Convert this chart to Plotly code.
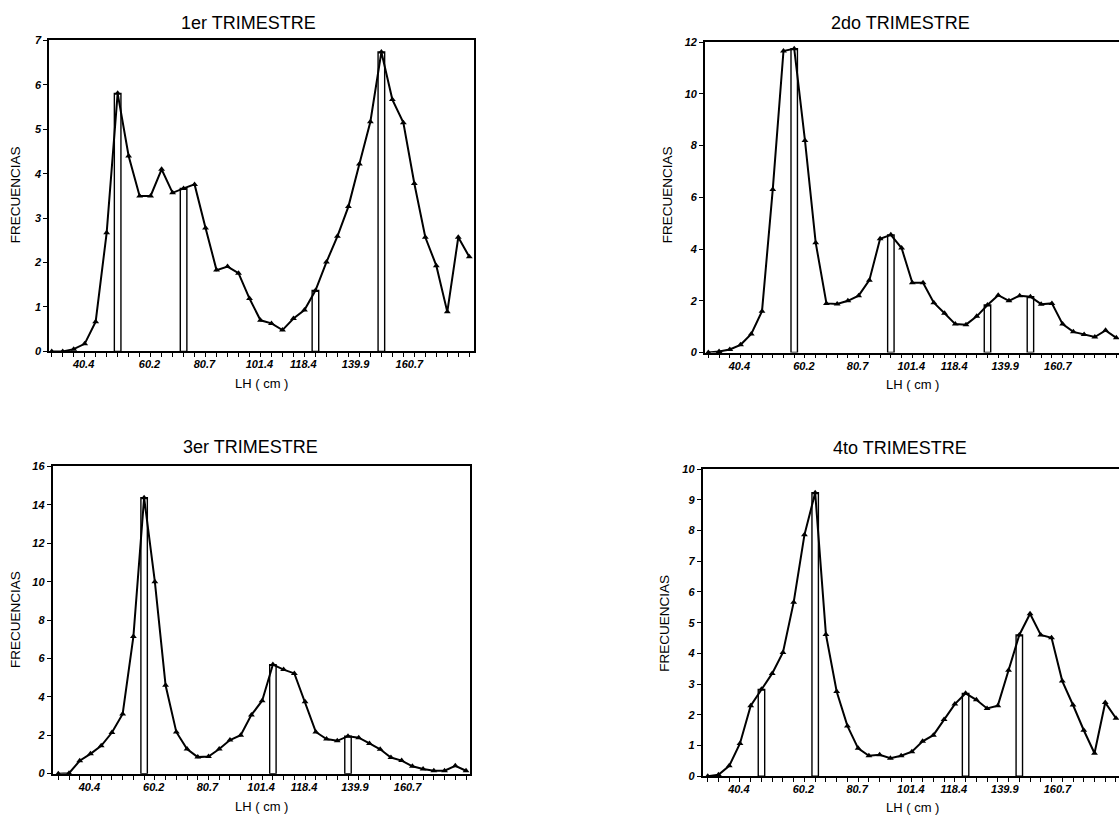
import plotly.graph_objects as go

# ---------------- data ----------------
bins = list(range(39))  # length-class index (equal-width classes)

tick_pos = [2.9, 8.9, 13.9, 18.9, 22.9, 27.65, 32.55]
tick_txt = ["40.4", "60.2", "80.7", "101.4", "118.4", "139.9", "160.7"]

titles = ["1er TRIMESTRE", "2do TRIMESTRE", "3er TRIMESTRE", "4to TRIMESTRE"]

q1 = [0, 0, 0.05, 0.17, 0.67, 2.67, 5.81, 4.4, 3.5, 3.5, 4.1, 3.57, 3.67, 3.76, 2.78,
      1.83, 1.91, 1.76, 1.19, 0.70, 0.63, 0.48, 0.74, 0.93, 1.37, 2.01, 2.59, 3.26,
      4.22, 5.17, 6.74, 5.67, 5.15, 3.78, 2.57, 1.93, 0.89, 2.57, 2.13]
q2 = [0, 0.04, 0.12, 0.3, 0.72, 1.6, 6.3, 11.66, 11.75, 8.2, 4.25, 1.9, 1.88, 2.0, 2.2,
      2.8, 4.4, 4.55, 4.04, 2.7, 2.7, 1.93, 1.52, 1.1, 1.08, 1.4, 1.84, 2.22, 2.0, 2.2,
      2.16, 1.87, 1.9, 1.1, 0.8, 0.7, 0.6, 0.86, 0.57]
q3 = [0, 0.02, 0.67, 1.03, 1.45, 2.14, 3.11, 7.14, 14.37, 10.0, 4.6, 2.17, 1.28, 0.86,
      0.89, 1.28, 1.75, 2.0, 3.06, 3.8, 5.68, 5.42, 5.22, 3.75, 2.17, 1.8, 1.71, 1.95,
      1.87, 1.57, 1.27, 0.84, 0.68, 0.38, 0.24, 0.15, 0.15, 0.41, 0.15]
q4 = [0, 0.05, 0.34, 1.07, 2.3, 2.83, 3.35, 4.03, 5.67, 7.86, 9.23, 4.62, 2.76, 1.64,
      0.91, 0.67, 0.7, 0.59, 0.67, 0.8, 1.14, 1.34, 1.85, 2.35, 2.7, 2.49, 2.21, 2.3,
      3.45, 4.6, 5.29, 4.6, 4.51, 3.1, 2.32, 1.5, 0.75, 2.4, 1.89]

# modal classes marked with bars
bars1 = [6, 12, 24, 30]
bars2 = [8, 17, 26, 30]
bars3 = [8, 20, 27]
bars4 = [5, 10, 24, 29]

series = [q1, q2, q3, q4]
bar_idx = [bars1, bars2, bars3, bars4]
ymax = [7, 12, 16, 10]
ydt = [1, 2, 2, 1]

# ---------------- layout geometry ----------------
W, H = 1119, 822
def px(x):
    return x / W
def py(y):
    return 1 - y / H

geo = [
    dict(xd=[px(49.3), px(474)], yd=[py(350.5), py(35)], xr=[-0.22, 38.43], right=True,
         title=(248, 17), ytitle=(15, 192), xtitle=(261, 383)),
    dict(xd=[px(705), 1.0], yd=[py(351.7), py(36.7)], xr=[-0.31, 38.25], right=False,
         title=(900, 17), ytitle=(667, 192), xtitle=(912, 384)),
    dict(xd=[px(52.7), px(470)], yd=[py(779), py(467.3)], xr=[-0.52, 38.37], right=True,
         title=(250, 448), ytitle=(16, 623), xtitle=(261, 812)),
    dict(xd=[px(702.7), 1.0], yd=[py(781.7), py(470)], xr=[-0.47, 38.28], right=False,
         title=(900, 449), ytitle=(665, 627), xtitle=(912, 813)),
]

FONT = "Liberation Sans, Arial, Helvetica, sans-serif"
fig = go.Figure()
annotations = []
layout = {}

for i in range(4):
    n = "" if i == 0 else str(i + 1)
    xa, ya = "x" + n, "y" + n
    vals = series[i]
    bx = bar_idx[i]
    by = [vals[k] for k in bx]
    fig.add_trace(go.Bar(x=bx, y=by, width=0.6, xaxis=xa, yaxis=ya,
                         marker=dict(color="white", line=dict(color="black", width=1.4)),
                         showlegend=False, hoverinfo="skip"))
    fig.add_trace(go.Scatter(x=bins, y=vals, mode="lines+markers", xaxis=xa, yaxis=ya,
                             line=dict(color="black", width=2),
                             marker=dict(symbol="triangle-up", size=6, color="black"),
                             cliponaxis=False, showlegend=False))
    g = geo[i]
    layout["xaxis" + n] = dict(
        domain=g["xd"], anchor=ya, range=g["xr"], showgrid=False, zeroline=False,
        showline=True, linecolor="black", linewidth=1.8, mirror=True,
        tickmode="array", tickvals=tick_pos, ticktext=tick_txt,
        ticks="outside", ticklen=2, tickcolor="rgba(0,0,0,0)",
        tickfont=dict(family=FONT, size=11, color="black", style="italic", weight="bold"),
        minor=dict(tickmode="array", tickvals=bins, ticks="outside", ticklen=4,
                   tickcolor="black", tickwidth=1.4, showgrid=False),
        fixedrange=True)
    layout["yaxis" + n] = dict(
        domain=g["yd"], anchor=xa, range=[0, ymax[i]], dtick=ydt[i], tick0=0,
        showgrid=False, zeroline=False, showline=True, linecolor="black", linewidth=1.8,
        mirror=g["right"], ticks="outside", ticklen=4, tickcolor="black", tickwidth=1.4,
        tickfont=dict(family=FONT, size=11, color="black", style="italic", weight="bold"),
        fixedrange=True)
    tx, ty = g["title"]
    annotations.append(dict(text=titles[i], x=px(tx), y=py(ty), xref="paper", yref="paper",
                            showarrow=False, xanchor="center", yanchor="middle",
                            font=dict(family=FONT, size=18, color="black")))
    yx, yy = g["ytitle"]
    annotations.append(dict(text="FRECUENCIAS", x=px(yx), y=py(yy), xref="paper", yref="paper",
                            showarrow=False, textangle=-90, xanchor="center", yanchor="middle",
                            font=dict(family=FONT, size=13.5, color="black")))
    xx, xy = g["xtitle"]
    annotations.append(dict(text="LH ( cm )", x=px(xx), y=py(xy), xref="paper", yref="paper",
                            showarrow=False, xanchor="center", yanchor="middle",
                            font=dict(family=FONT, size=13, color="black")))

fig.update_layout(**layout)
fig.update_layout(width=W, height=H, autosize=False,
                  margin=dict(l=0, r=0, t=0, b=0, pad=0),
                  paper_bgcolor="white", plot_bgcolor="white",
                  barmode="overlay", annotations=annotations,
                  font=dict(family=FONT, color="black"))

fig.write_html("out.html", config={"displayModeBar": False})
